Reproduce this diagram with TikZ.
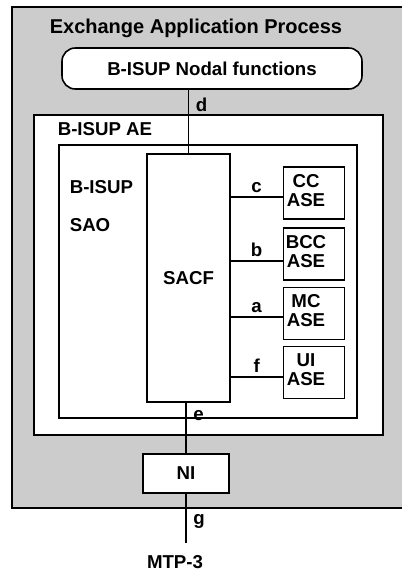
\documentclass[tikz,border=0pt]{standalone}
\usepackage{fontspec}
\setmainfont{Liberation Sans}
\usepackage{tikz}

\begin{document}
\begin{tikzpicture}[x=0.75pt,y=-0.75pt,line width=1.2pt,
  every node/.style={font=\bfseries\fontsize{14}{14}\selectfont},
  box/.style={draw,fill=white,inner sep=0pt},
  ase/.style={box,minimum width=46pt,minimum height=39pt},
  txt/.style={inner sep=0pt}]
\useasboundingbox (0,0) rectangle (402,571);
% exchange application process
\fill[black!20] (12,7) rectangle (410,508);
\draw (410,7) -- (12,7) -- (12,508) -- (410,508);
\node[txt,anchor=base west,font=\bfseries\fontsize{15}{15}\selectfont] (eap) at (49,33) {Exchange Application Process};
\node[box,rounded corners=10pt,minimum width=225pt,minimum height=30.75pt] (nodal) at (212,68.5) {B-ISUP Nodal functions};
% application entity
\node[box,minimum width=261.75pt,minimum height=240pt] (ae) at (208.5,275) {};
\node[txt,anchor=base west] (aelbl) at (57,135) {B-ISUP AE};
\node[box,minimum width=223.5pt,minimum height=204.75pt] (sao) at (208,281.5) {};
\node[txt,anchor=base west] (saolbl) at (69,193) {B-ISUP};
\node[txt,anchor=base west] (saolblb) at (69,231) {SAO};
\node[box,minimum width=62.25pt,minimum height=186pt] (sacf) at (188.5,278) {SACF};
% ASEs
\foreach \n/\lab/\y in {cc/CC/193,bcc/BCC/254,mc/MC/313.5,ui/UI/372.5}
  \node[ase] (\n) at (314,\y) {\begin{tabular}{@{}c@{}}\lab\\ASE\end{tabular}\rule{12pt}{0pt}};
\foreach \n/\lb/\dy in {cc/c/4,bcc/b/7,mc/a/3.5,ui/f/4.5}
  \draw (sacf.east |- \n.west) ++(0,\dy) coordinate (s\n) -- node[above,inner sep=3pt] (\n-lbl) {\lb} (s\n -| \n.west);
% network interface
\node[box,minimum width=64.5pt,minimum height=29.25pt] (ni) at (186,473.5) {NI};
\node[txt,anchor=base] (mtp) at (175,568) {MTP-3};
\coordinate (mtpend) at (186,543);
% vertical connectors
\draw (nodal.south -| sacf.north) -- node[pos=0.23,right,inner sep=5pt] (dlbl) {d} (sacf.north);
\draw (sacf.south -| ni.north) -- node[pos=0.25,right,inner sep=5pt] (elbl) {e} (ni.north);
\draw (ni.south) -- node[pos=0.57,right,inner sep=5pt] (glbl) {g} (mtpend);
\end{tikzpicture}
\end{document}
